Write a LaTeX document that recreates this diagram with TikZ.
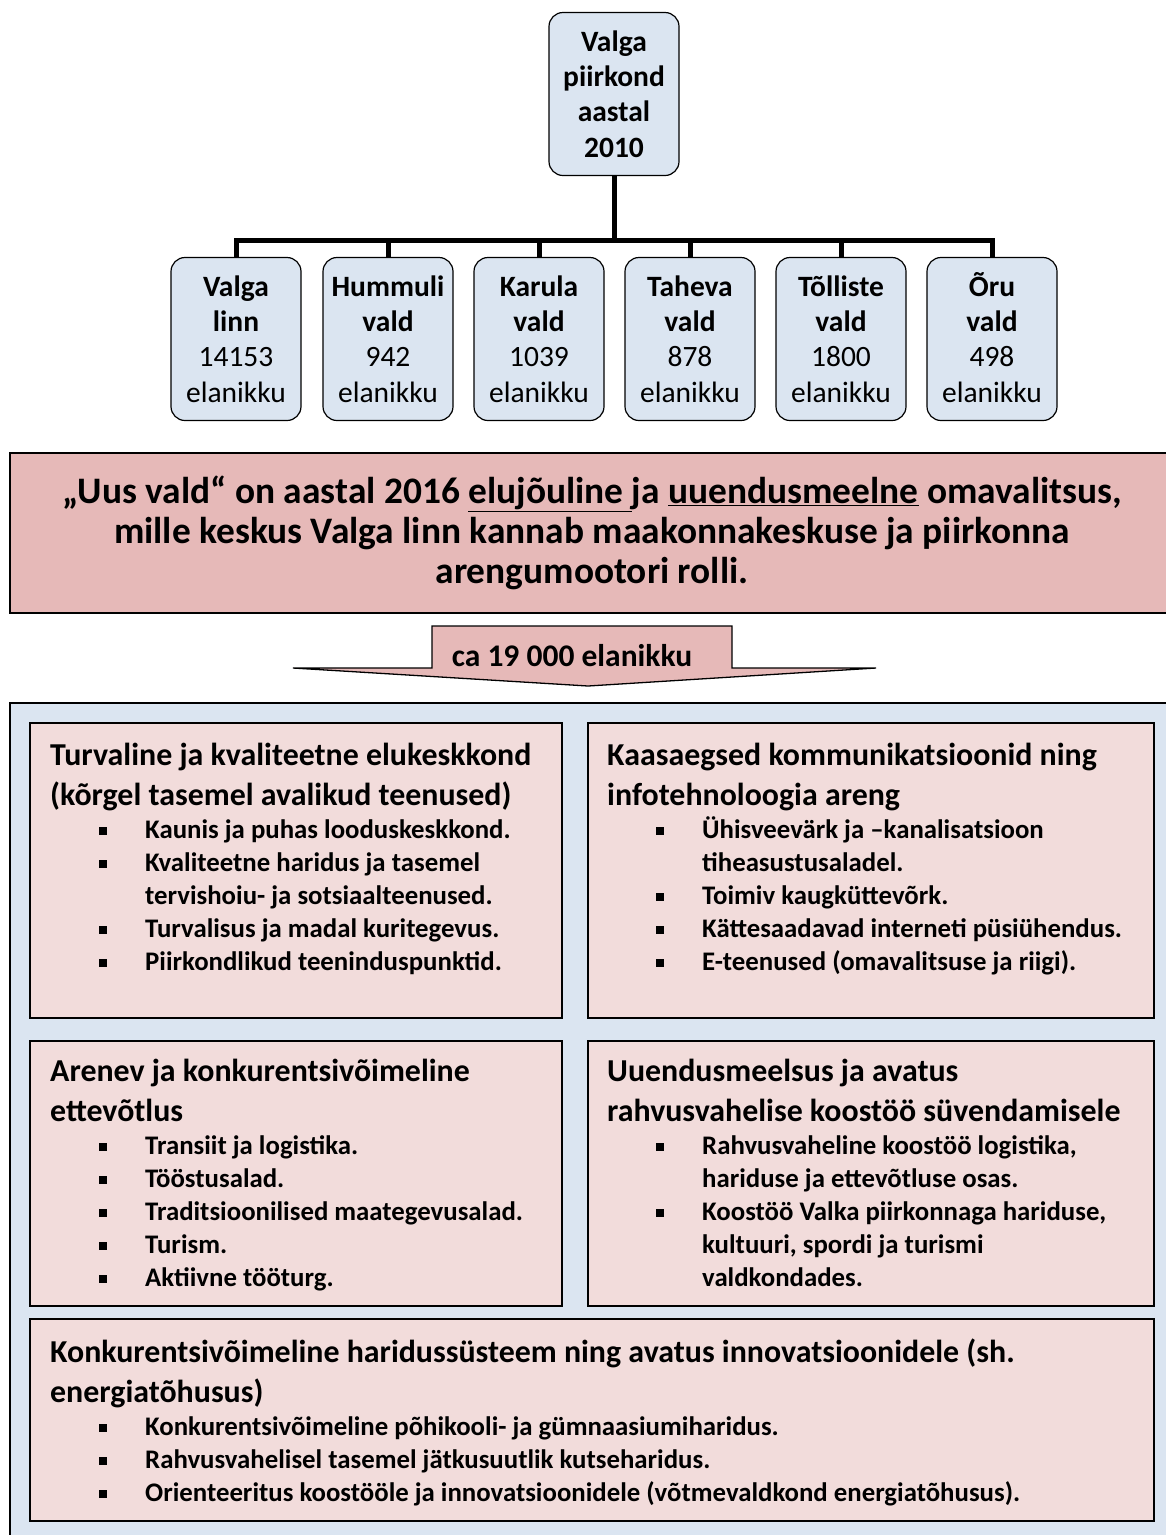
\documentclass[tikz,border=0pt]{standalone}
\usepackage{fontspec}
\setmainfont{Carlito}
\usepackage{xcolor}
\usetikzlibrary{positioning}
\definecolor{vgblue}{HTML}{DBE5F1}
\definecolor{vgrose}{HTML}{E6B9B8}
\definecolor{vgpale}{HTML}{F2DCDB}
\newcommand{\bul}{\par\noindent\llap{\raisebox{0.3ex}{\rule{7.5pt}{7.5pt}}\hspace{38.5pt}}}
\newcommand{\fhead}{\fontsize{31.9}{40}\selectfont\spaceskip=0pt\xspaceskip=0pt\relax}
\newcommand{\fitem}{\fontsize{26.8}{33}\selectfont\spaceskip=0pt\xspaceskip=0pt\leftskip=95pt\parskip=0pt\relax}
\newcommand{\fband}{\fontsize{37.4}{40}\selectfont\bfseries\spaceskip=0pt\xspaceskip=0pt\relax}
\newcommand{\kid}[3]{{\bfseries #1}\\{\bfseries #2}\\#3\\elanikku}

\begin{document}
\begin{tikzpicture}[x=1pt, y=-1pt,
    orgbox/.style={draw, line width=1.2pt, fill=vgblue, rounded corners=14pt,
        minimum width=130, minimum height=163, inner sep=0pt, align=center,
        font=\fontsize{29.5}{35.4}\selectfont},
    conn/.style={line width=5pt},
    band/.style={draw, line width=2pt, fill=vgrose},
    field/.style={draw, line width=1.8pt, fill=vgpale, anchor=north west, inner sep=0pt},
    fieldtext/.style={anchor=north west, inner sep=0pt, align=left, text width=1100,
        font=\bfseries}]
    \useasboundingbox (0,0) rectangle (1166,1535);
    \clip (0,0) rectangle (1166,1535);

    % Region in 2010
    \node[orgbox, font=\fontsize{29.5}{35.4}\selectfont\bfseries] (piirkond) at (614,94)
        {Valga\\piirkond\\aastal\\2010};

    % Municipalities
    \node[orgbox] (linn)     at (236,339) {\kid{Valga}{linn}{14153}};
    \node[orgbox] (hummuli)  at (388,339) {\kid{Hummuli}{vald}{942}};
    \node[orgbox] (karula)   at (539,339) {\kid{Karula}{vald}{1039}};
    \node[orgbox] (taheva)   at (690,339) {\kid{Taheva}{vald}{878}};
    \node[orgbox] (tolliste) at (841,339) {\kid{Tõlliste}{vald}{1800}};
    \node[orgbox] (oru)      at (992,339) {\kid{\smash{Õ}\vphantom{Hl}ru}{vald}{498}};

    % Tree lines
    \coordinate (bus) at (614,240);
    \draw[conn] (piirkond.south) -- (bus);
    \foreach \k in {linn,hummuli,karula,taheva,tolliste,oru}
        \draw[conn] (\k.north) |- (bus);

    % Vision banner
    \node[band, minimum width=1164, minimum height=160, align=center, font=\fband]
        (visioon) at (592,533)
        {„Uus vald“ on aastal 2016 \underline{elujõuline }ja \underline{uuendusmeelne} omavalitsus,\\
         mille keskus Valga linn kannab maakonnakeskuse ja piirkonna\\
         arengumootori rolli.};

    % Population arrow
    \draw[band, line width=1.3pt] (432,626) -- (732,626) -- (732,668) -- (876,668)
        -- (588,686) -- (293,668) -- (432,668) -- cycle;
    \node[font=\fontsize{31.5}{36}\selectfont\bfseries] (rahvaarv) at (572,656)
        {ca 19 000 elanikku};

    % Goals
    \draw[fill=vgblue, line width=1.8pt] (10,703) rectangle (1190,1560);
    \node[field, minimum width=532, minimum height=295] (turva) at (29,722) {};
    \node[field, minimum width=566, minimum height=295] (side) at (587,722) {};
    \node[field, minimum width=532, minimum height=265] (ettevotlus) at (29,1040) {};
    \node[field, minimum width=566, minimum height=265] (koostoo) at (587,1040) {};
    \node[field, minimum width=1124, minimum height=202] (haridus) at (29,1318) {};

    \node[fieldtext] (turvatxt) at ([shift={(21,21)}]turva.north west)
        {{\fhead Turvaline ja kvaliteetne elukeskkond\\(kõrgel tasemel avalikud teenused)\par}
         {\fitem
         \bul Kaunis ja puhas looduskeskkond.
         \bul Kvaliteetne haridus ja tasemel\newline tervishoiu- ja sotsiaalteenused.
         \bul Turvalisus ja madal kuritegevus.
         \bul Piirkondlikud teeninduspunktid.\par}};
    \node[fieldtext] (sidetxt) at ([shift={(20,21)}]side.north west)
        {{\fhead Kaasaegsed kommunikatsioonid ning\\infotehnoloogia areng\par}
         {\fitem
         \bul Ühisveevärk ja –kanalisatsioon\newline tiheasustusaladel.
         \bul Toimiv kaugküttevõrk.
         \bul Kättesaadavad interneti püsiühendus.
         \bul E-teenused (omavalitsuse ja riigi).\par}};
    \node[fieldtext] (ettevotlustxt) at ([shift={(21,19)}]ettevotlus.north west)
        {{\fhead Arenev ja konkurentsivõimeline\\ettevõtlus\par}
         {\fitem
         \bul Transiit ja logistika.
         \bul Tööstusalad.
         \bul Traditsioonilised maategevusalad.
         \bul Turism.
         \bul Aktiivne tööturg.\par}};
    \node[fieldtext] (koostootxt) at ([shift={(20,19)}]koostoo.north west)
        {{\fhead Uuendusmeelsus ja avatus\\rahvusvahelise koostöö süvendamisele\par}
         {\fitem
         \bul Rahvusvaheline koostöö logistika,\newline hariduse ja ettevõtluse osas.
         \bul Koostöö Valka piirkonnaga hariduse,\newline kultuuri, spordi ja turismi\newline valdkondades.\par}};
    \node[fieldtext] (haridustxt) at ([shift={(21,21)}]haridus.north west)
        {{\fhead Konkurentsivõimeline haridussüsteem ning avatus innovatsioonidele (sh.\\energiatõhusus)\par}
         {\fitem
         \bul Konkurentsivõimeline põhikooli- ja gümnaasiumiharidus.
         \bul Rahvusvahelisel tasemel jätkusuutlik kutseharidus.
         \bul Orienteeritus koostööle ja innovatsioonidele (võtmevaldkond energiatõhusus).\par}};
\end{tikzpicture}
\end{document}
